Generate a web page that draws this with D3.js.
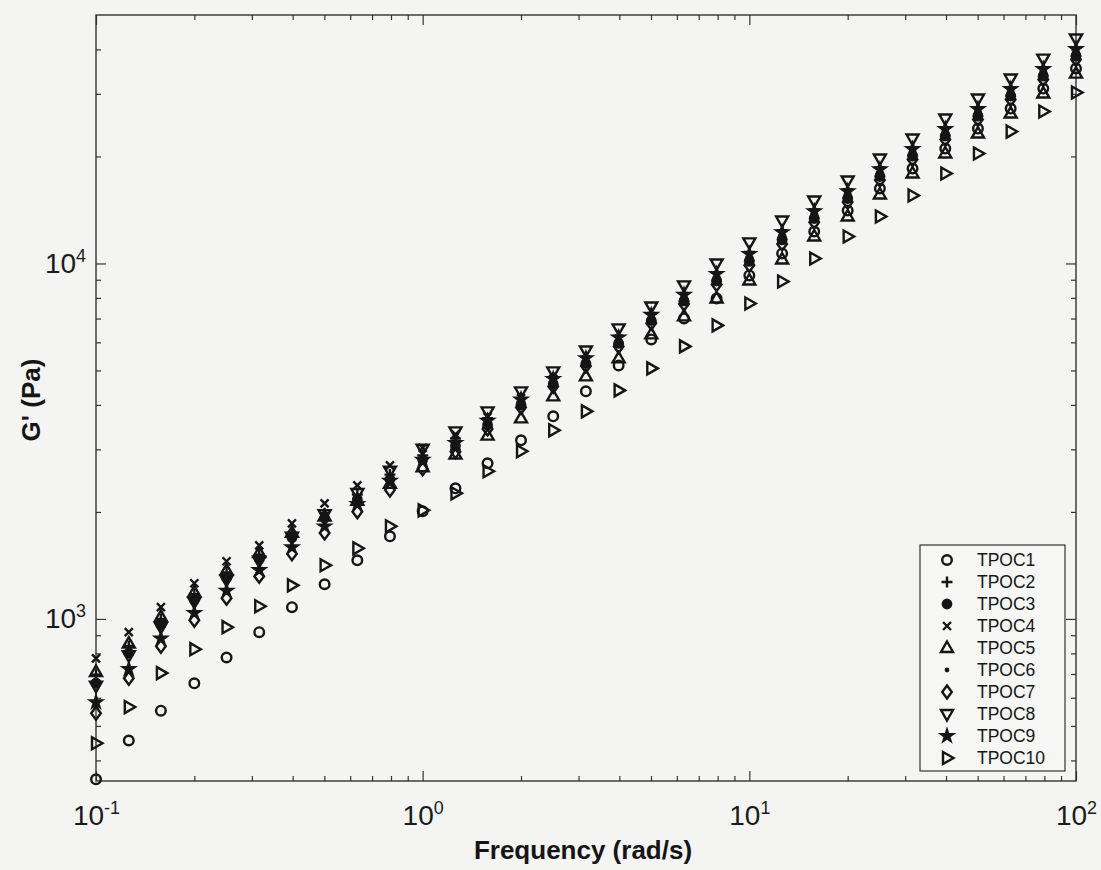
<!DOCTYPE html>
<html>
<head>
<meta charset="utf-8">
<script src="https://cdn.jsdelivr.net/npm/d3@7"></script>
<style>
  body { margin: 0; background: #f4f4f3; }
  svg { display: block; font-family: "Liberation Sans", Arial, sans-serif; }
</style>
</head>
<body>
<div id="chart"></div>
<script>
//================================
// Data
var freq = [0.1, 0.126, 0.158, 0.2, 0.251, 0.316, 0.398, 0.501, 0.631, 0.794,
            1, 1.26, 1.58, 2, 2.51, 3.16, 3.98, 5.01, 6.31, 7.94,
            10, 12.6, 15.8, 20, 25.1, 31.6, 39.8, 50.1, 63.1, 79.4, 100];

var tpoc1 = [354, 455, 552, 659, 779, 918, 1079, 1252, 1462, 1708, 2008, 2330, 2740, 3180, 3715, 4367, 5167, 6113, 7005, 7973, 9253, 10670, 12300, 14090, 16250, 18500, 21050, 23960, 27280, 31050, 35330];
var tpoc2 = [697, 839, 1000, 1173, 1352, 1517, 1746, 1984, 2237, 2547, 2885, 3216, 3671, 4180, 4773, 5459, 6254, 7234, 8250, 9450, 10770, 12400, 14180, 16140, 18620, 21230, 24160, 27500, 31300, 35620, 40550];
var tpoc3 = [661, 802, 962, 1131, 1304, 1472, 1692, 1920, 2171, 2471, 2803, 3069, 3515, 4001, 4584, 5234, 5958, 6913, 7846, 8929, 10130, 11650, 13380, 15230, 17560, 20060, 22830, 25980, 29580, 33660, 38320];
var tpoc4 = [775, 918, 1079, 1260, 1453, 1611, 1858, 2115, 2376, 2705, 3029, 3307, 3704, 4180, 4734, 5368, 6135, 7105, 8084, 9240, 10510, 12090, 13860, 15770, 18190, 20750, 23620, 26890, 30600, 34830, 39650];
var tpoc5 = [709, 852, 1013, 1187, 1368, 1532, 1746, 1942, 2149, 2398, 2671, 2900, 3279, 3666, 4227, 4813, 5406, 6316, 7096, 7973, 8958, 10260, 11910, 13560, 15630, 17910, 20390, 23200, 26410, 30060, 34210];
var tpoc6 = [673, 815, 975, 1145, 1320, 1487, 1710, 1942, 2193, 2496, 2830, 3097, 3546, 4036, 4621, 5278, 6016, 6977, 7925, 9028, 10250, 11790, 13540, 15410, 17770, 20290, 23090, 26280, 29910, 34040, 38760];
var tpoc7 = [543, 681, 838, 992, 1144, 1318, 1526, 1745, 2003, 2304, 2645, 2955, 3424, 3932, 4510, 5145, 5844, 6790, 7690, 8730, 9883, 11350, 13070, 14880, 17160, 19610, 22330, 25400, 28910, 32910, 37460];
var tpoc8 = [649, 791, 950, 1118, 1289, 1458, 1703, 1971, 2260, 2614, 3012, 3371, 3837, 4368, 4971, 5693, 6566, 7570, 8675, 10000, 11460, 13210, 15030, 17120, 19740, 22460, 25570, 29100, 33130, 37700, 42920];
var tpoc9 = [583, 723, 881, 1040, 1200, 1372, 1591, 1821, 2106, 2446, 2803, 3127, 3608, 4143, 4734, 5414, 6194, 7169, 8166, 9344, 10640, 12250, 14020, 15960, 18400, 20990, 23890, 27190, 30950, 35230, 40100];
var tpoc10 = [447, 565, 704, 822, 948, 1086, 1243, 1416, 1580, 1822, 2021, 2256, 2602, 2962, 3393, 3837, 4395, 5068, 5844, 6696, 7717, 8900, 10330, 11910, 13560, 15530, 17910, 20390, 23500, 26760, 30260];

var names = ['TPOC1', 'TPOC2', 'TPOC3', 'TPOC4', 'TPOC5', 'TPOC6', 'TPOC7', 'TPOC8', 'TPOC9', 'TPOC10'];
var seriesValues = [tpoc1, tpoc2, tpoc3, tpoc4, tpoc5, tpoc6, tpoc7, tpoc8, tpoc9, tpoc10];

var xMajor = [0.1, 1, 10, 100];
var yMajor = [1000, 10000];

//================================
// Marker shapes (MATLAB style)
var ink = '#151515';
function poly(pts) {
  return {draw: function(ctx) {
    ctx.moveTo(pts[0][0], pts[0][1]);
    for (var i = 1; i < pts.length; i++) ctx.lineTo(pts[i][0], pts[i][1]);
    ctx.closePath();
  }};
}
var lines = function(segs) {
  return {draw: function(ctx) {
    segs.forEach(function(s) { ctx.moveTo(s[0], s[1]); ctx.lineTo(s[2], s[3]); });
  }};
};
var ring = function(r) {
  return {draw: function(ctx) { ctx.moveTo(r, 0); ctx.arc(0, 0, r, 0, 2 * Math.PI); }};
};

var markers = [
  {type: ring(4.8), fill: 'none'},
  {type: lines([[-5.5, 0, 5.5, 0], [0, -5.5, 0, 5.5]]), fill: 'none'},
  {type: ring(4.2), fill: ink},
  {type: lines([[-4, -4, 4, 4], [-4, 4, 4, -4]]), fill: 'none'},
  {type: poly([[0, -6.5], [6, 4], [-6, 4]]), fill: 'none'},
  {type: ring(1.2), fill: ink},
  {type: poly([[0, -6.5], [4.8, 0], [0, 6.5], [-4.8, 0]]), fill: 'none'},
  {type: poly([[0, 6.5], [6, -4], [-6, -4]]), fill: 'none'},
  {type: d3.symbolStar, size: 38, fill: ink},
  {type: poly([[6.5, 0], [-4, -6], [-4, 6]]), fill: 'none'}
];
function markerPath(m) {
  return d3.symbol().type(m.type).size(m.size || 64)();
}

//================================
// Layout
var width = 1101, height = 870;
var margin = {top: 15, right: 25, bottom: 89, left: 96};
var w = width - margin.left - margin.right,
    h = height - margin.top - margin.bottom;

var svg = d3.select('#chart').append('svg')
    .attr('width', width)
    .attr('height', height);

var g = svg.append('g').attr('transform', 'translate(' + margin.left + ',' + margin.top + ')');

var x = d3.scaleLog().domain([0.1, 100]).range([0, w]);
var y = d3.scaleLog().domain([350, 50000]).range([h, 0]);

function minors(scale) {
  var d = scale.domain(), out = [];
  for (var p = Math.floor(Math.log10(d[0])); p <= Math.ceil(Math.log10(d[1])); p++) {
    for (var k = 2; k <= 9; k++) {
      var v = k * Math.pow(10, p);
      if (v > d[0] && v < d[1]) out.push(v);
    }
  }
  return out;
}

// superscript tick labels: 10^n
function powerLabels(sel) {
  sel.selectAll('.tick text').each(function(d) {
    var t = d3.select(this);
    t.text(null);
    t.append('tspan').text('10');
    t.append('tspan').attr('dy', '-0.62em').attr('font-size', '0.64em')
      .text(Math.round(Math.log10(d)));
  });
}

function styleAxis(sel) {
  sel.select('.domain').remove();
  sel.selectAll('.tick line').attr('stroke', '#333').attr('stroke-width', 1.2);
  sel.selectAll('.tick text').attr('fill', '#1a1a1a').attr('font-size', 28);
}

// bottom / top
g.append('g').attr('transform', 'translate(0,' + h + ')')
  .call(d3.axisBottom(x).tickValues(xMajor).tickSize(-10).tickPadding(24))
  .call(styleAxis).call(powerLabels);
g.append('g').attr('transform', 'translate(0,' + h + ')')
  .call(d3.axisBottom(x).tickValues(minors(x)).tickSize(-5).tickFormat(''))
  .call(styleAxis);
g.append('g')
  .call(d3.axisTop(x).tickValues(xMajor).tickSize(-10).tickFormat(''))
  .call(styleAxis);
g.append('g')
  .call(d3.axisTop(x).tickValues(minors(x)).tickSize(-5).tickFormat(''))
  .call(styleAxis);

// left / right
g.append('g')
  .call(d3.axisLeft(y).tickValues(yMajor).tickSize(-10).tickPadding(10))
  .call(styleAxis).call(powerLabels);
g.append('g')
  .call(d3.axisLeft(y).tickValues(minors(y)).tickSize(-5).tickFormat(''))
  .call(styleAxis);
g.append('g').attr('transform', 'translate(' + w + ',0)')
  .call(d3.axisRight(y).tickValues(yMajor).tickSize(-10).tickFormat(''))
  .call(styleAxis);
g.append('g').attr('transform', 'translate(' + w + ',0)')
  .call(d3.axisRight(y).tickValues(minors(y)).tickSize(-5).tickFormat(''))
  .call(styleAxis);

// box
g.append('rect')
  .attr('width', w).attr('height', h)
  .attr('fill', 'none').attr('stroke', '#333').attr('stroke-width', 1.4);

//================================
// Points
seriesValues.forEach(function(vals, si) {
  var m = markers[si];
  g.append('g').attr('class', 'series')
    .selectAll('path')
    .data(vals.map(function(v, i) { return [freq[i], v]; }))
    .enter().append('path')
    .attr('transform', function(d) { return 'translate(' + x(d[0]) + ',' + y(d[1]) + ')'; })
    .attr('d', markerPath(m))
    .attr('fill', m.fill)
    .attr('stroke', ink)
    .attr('stroke-width', 2.4)
    .attr('stroke-linejoin', 'miter');
});

//================================
// Axis titles
svg.append('text')
  .attr('x', margin.left + w / 2 - 3).attr('y', 859)
  .attr('text-anchor', 'middle')
  .attr('font-size', 26).attr('font-weight', 'bold').attr('fill', '#151515')
  .text('Frequency (rad/s)');

svg.append('text')
  .attr('transform', 'translate(40,' + 400 + ') rotate(-90)')
  .attr('text-anchor', 'middle')
  .attr('font-size', 26).attr('font-weight', 'bold').attr('fill', '#151515')
  .text("G' (Pa)");

//================================
// Legend
var lg = svg.append('g').attr('transform', 'translate(920,545)');
lg.append('rect')
  .attr('width', 145).attr('height', 226)
  .attr('fill', '#f6f6f5').attr('stroke', '#333').attr('stroke-width', 1.2);

names.forEach(function(n, i) {
  var row = lg.append('g').attr('transform', 'translate(0,' + (15 + i * 22) + ')');
  row.append('path')
    .attr('transform', 'translate(27,0)')
    .attr('d', markerPath(markers[i]))
    .attr('fill', markers[i].fill)
    .attr('stroke', ink).attr('stroke-width', 2.4);
  row.append('text')
    .attr('x', 57).attr('dy', '0.36em')
    .attr('font-size', 17.5).attr('fill', '#151515')
    .text(n);
});
</script>
</body>
</html>
